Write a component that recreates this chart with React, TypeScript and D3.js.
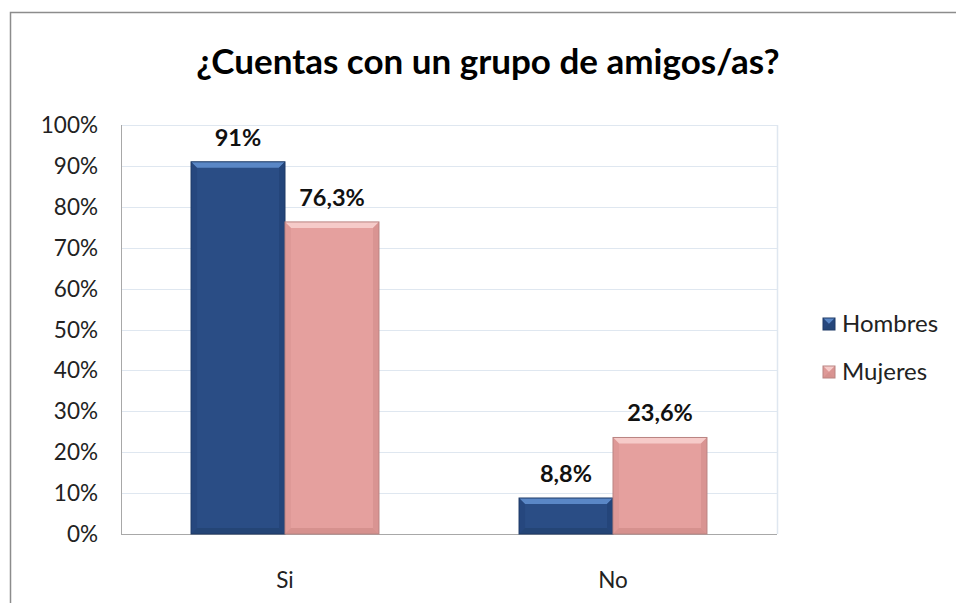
import React from "react";
import * as d3 from "d3";

const categories = ["Si", "No"];
const seriesNames = ["Hombres", "Mujeres"];
const hombres = [91, 8.8];
const mujeres = [76.3, 23.6];
const valueLabels = [["91%", "8,8%"], ["76,3%", "23,6%"]];
const yTicks = [0, 10, 20, 30, 40, 50, 60, 70, 80, 90, 100];
const title = "¿Cuentas con un grupo de amigos/as?";

const W = 956, H = 603;
const plot = { left: 121, right: 777, top: 125, bottom: 534 };
const colors = [
  { base: "#2a4d85", top: "#5a87c6", side: "#24457a", bottom: "#22416f", edge: "#1e3a66" },
  { base: "#e5a09e", top: "#f6cbc9", side: "#d99492", bottom: "#d08a88", edge: "#b98482" },
];
const FONT = "Lato, 'Open Sans', sans-serif";

function Bevel({ x, y, w, h, c }: { x: number; y: number; w: number; h: number; c: any }) {
  const b = Math.min(6, h / 2, w / 2);
  return (
    <g>
      <rect x={x} y={y} width={w} height={h} fill={c.base} />
      <polygon points={`${x},${y} ${x + w},${y} ${x + w - b},${y + b} ${x + b},${y + b}`} fill={c.top} />
      <polygon points={`${x},${y} ${x + b},${y + b} ${x + b},${y + h - b} ${x},${y + h}`} fill={c.side} opacity={0.6} />
      <polygon points={`${x + w},${y} ${x + w - b},${y + b} ${x + w - b},${y + h - b} ${x + w},${y + h}`} fill={c.side} />
      <polygon points={`${x},${y + h} ${x + b},${y + h - b} ${x + w - b},${y + h - b} ${x + w},${y + h}`} fill={c.bottom} opacity={0.7} />
      <rect x={x} y={y} width={w} height={h} fill="none" stroke={c.edge} strokeWidth={1} />
    </g>
  );
}

export default function App() {
  const y = d3.scaleLinear().domain([0, 100]).range([plot.bottom, plot.top]);
  const x0 = d3.scaleBand().domain(categories).range([plot.left, plot.right]).paddingInner(0.427).paddingOuter(0.2135);
  const x1 = d3.scaleBand().domain(seriesNames).range([0, x0.bandwidth()]);
  const data = [hombres, mujeres];
  return (
    <svg width={W} height={H} style={{ position: "absolute", left: 0, top: 0 }}>
      <rect x={0} y={0} width={W} height={H} fill="#fff" />
      <rect x={10.5} y={12.5} width={W + 20} height={H + 20} fill="none" stroke="#8c8c8c" strokeWidth={1.5} />
      <text x={488} y={74} textAnchor="middle" fontFamily={FONT} fontWeight="bold" fontSize={35} fill="#000">{title}</text>
      {yTicks.map((t) => (
        <g key={t}>
          {t > 0 && (
            <line x1={plot.left} x2={plot.right} y1={Math.round(y(t)) + 0.5} y2={Math.round(y(t)) + 0.5} stroke="#dfe7f0" strokeWidth={1.2} />
          )}
          <text x={98} y={y(t) + 8} textAnchor="end" fontFamily={FONT} fontSize={22.5} fill="#222">{t}%</text>
        </g>
      ))}
      <line x1={plot.right + 0.5} x2={plot.right + 0.5} y1={plot.top} y2={plot.bottom} stroke="#dfe7f0" strokeWidth={1.5} />
      <line x1={plot.left + 0.5} x2={plot.left + 0.5} y1={plot.top} y2={plot.bottom} stroke="#a8a8a8" strokeWidth={1} />
      <line x1={plot.left} x2={plot.right} y1={plot.bottom + 0.5} y2={plot.bottom + 0.5} stroke="#a8a8a8" strokeWidth={1} />
      {categories.map((cat, i) => (
        <g key={cat}>
          {data.map((s, j) => {
            const bx = (x0(cat) as number) + (x1(seriesNames[j]) as number);
            const by = y(s[i]);
            return (
              <g key={j}>
                <Bevel x={bx} y={by} w={x1.bandwidth()} h={plot.bottom - by} c={colors[j]} />
                <text x={bx + x1.bandwidth() / 2} y={by - 16} textAnchor="middle" fontFamily={FONT} fontWeight="bold" fontSize={23.5} fill="#111">{valueLabels[j][i]}</text>
              </g>
            );
          })}
          <text x={(x0(cat) as number) + x0.bandwidth() / 2} y={588} textAnchor="middle" fontFamily={FONT} fontSize={22.5} fill="#222">{cat}</text>
        </g>
      ))}
      {seriesNames.map((n, j) => (
        <g key={n} transform={`translate(823, ${318 + j * 48})`}>
          <Bevel x={0} y={0} w={12} h={12} c={colors[j]} />
          <text x={19} y={14} fontFamily={FONT} fontSize={24} fill="#222">{n}</text>
        </g>
      ))}
    </svg>
  );
}
